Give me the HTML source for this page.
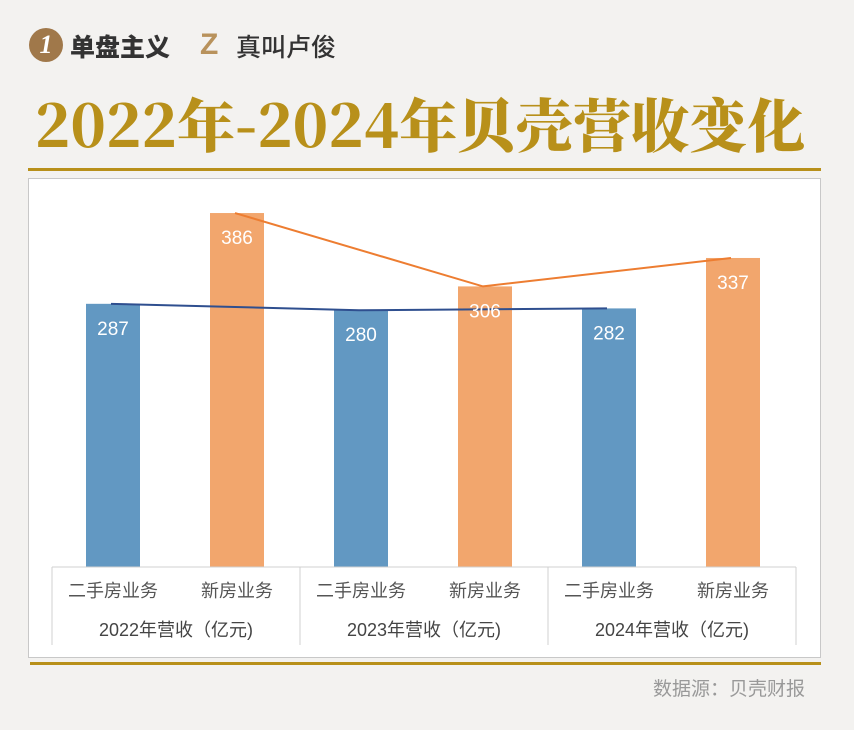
<!DOCTYPE html>
<html><head><meta charset="utf-8"><style>
body{margin:0;width:854px;height:730px;background:#f3f2f0;font-family:"Liberation Sans","Noto Sans CJK SC",sans-serif;position:relative;overflow:hidden}
.abs{position:absolute}
</style></head><body>
<div class="abs" style="left:29px;top:28px;width:34px;height:34px;border-radius:50%;background:#a0784a;color:#fff;font:bold italic 26px 'Liberation Serif',serif;text-align:center;line-height:34px">1</div>
<div class="abs" style="left:70px;top:28px;font:900 25px 'Noto Sans CJK SC',sans-serif;color:#333">单盘主义</div>
<div class="abs" style="left:200px;top:28px;font:900 30px 'Liberation Sans',sans-serif;color:#b8925c;line-height:34px">Z</div>
<div class="abs" style="left:236px;top:28px;font:500 25px 'Noto Sans CJK SC',sans-serif;color:#333">真叫卢俊</div>
<div class="abs" style="left:0;width:840px;top:80px;text-align:center;font:900 58px 'Noto Serif CJK SC','Liberation Serif',serif;color:#b8901a;white-space:nowrap">2022年-2024年贝壳营收变化</div>
<div class="abs" style="left:28px;top:168px;width:793px;height:3px;background:#b8901a"></div>
<div class="abs" style="left:28px;top:178px;width:791px;height:478px;background:#fff;border:1px solid #c8c8c8"></div>
<div class="abs" style="left:30px;top:662px;width:791px;height:3px;background:#b8901a"></div>
<div class="abs" style="right:49px;top:674px;font-size:19px;color:#999">数据源：贝壳财报</div>
<svg class="abs" style="left:0;top:0" width="854" height="730">
<g id="g"></g></svg>
<script>
const years=["2022年营收（亿元)","2023年营收（亿元)","2024年营收（亿元)"];
const categories=["二手房业务","新房业务"];
const secondHand=[287,280,282];
const newHome=[386,306,337];
const NS="http://www.w3.org/2000/svg";
const g=document.getElementById('g');
const base=567,k=0.917,gw=248,x0=52;
const y=v=>base-v*k;
const cx=(gi,si)=>x0+gi*gw+61+si*124;
function mk(t,a){const e=document.createElementNS(NS,t);for(const n in a)e.setAttribute(n,a[n]);g.appendChild(e);return e;}
const series=[secondHand,newHome],cols=["#6298c2","#f2a66d"],lc=["#2f4f8f","#ed7d31"];
series.forEach((s,si)=>{s.forEach((v,gi)=>{
 const r=mk('rect',{x:cx(gi,si)-27,y:y(v),width:54,height:v*k,fill:cols[si]});
 
 
});});
series.forEach((s,si)=>{
 const p=mk('polyline',{points:s.map((v,gi)=>(cx(gi,si)-2)+','+y(v)).join(' '),fill:'none',stroke:lc[si],'stroke-width':2});
 
 
});
series.forEach((s,si)=>{s.forEach((v,gi)=>{
 const t=mk('text',{x:cx(gi,si),y:y(v)+31,'text-anchor':'middle',fill:'#fff','font-size':19});
 t.textContent=v;
 
 
});});
mk('line',{x1:x0,x2:x0+3*gw,y1:base,y2:base,stroke:'#d0d0d0'});
for(let i=0;i<=3;i++)mk('line',{x1:x0+i*gw,x2:x0+i*gw,y1:base,y2:645,stroke:'#d0d0d0'});
years.forEach((yr,gi)=>{
 categories.forEach((c,si)=>{const t=mk('text',{x:cx(gi,si),y:597,'text-anchor':'middle',fill:'#555','font-size':18});t.textContent=c;
 
 });
 const t=mk('text',{x:x0+gi*gw+gw/2,y:636,'text-anchor':'middle',fill:'#444','font-size':18});t.textContent=yr;
 
 
});
</script>
</body></html>
